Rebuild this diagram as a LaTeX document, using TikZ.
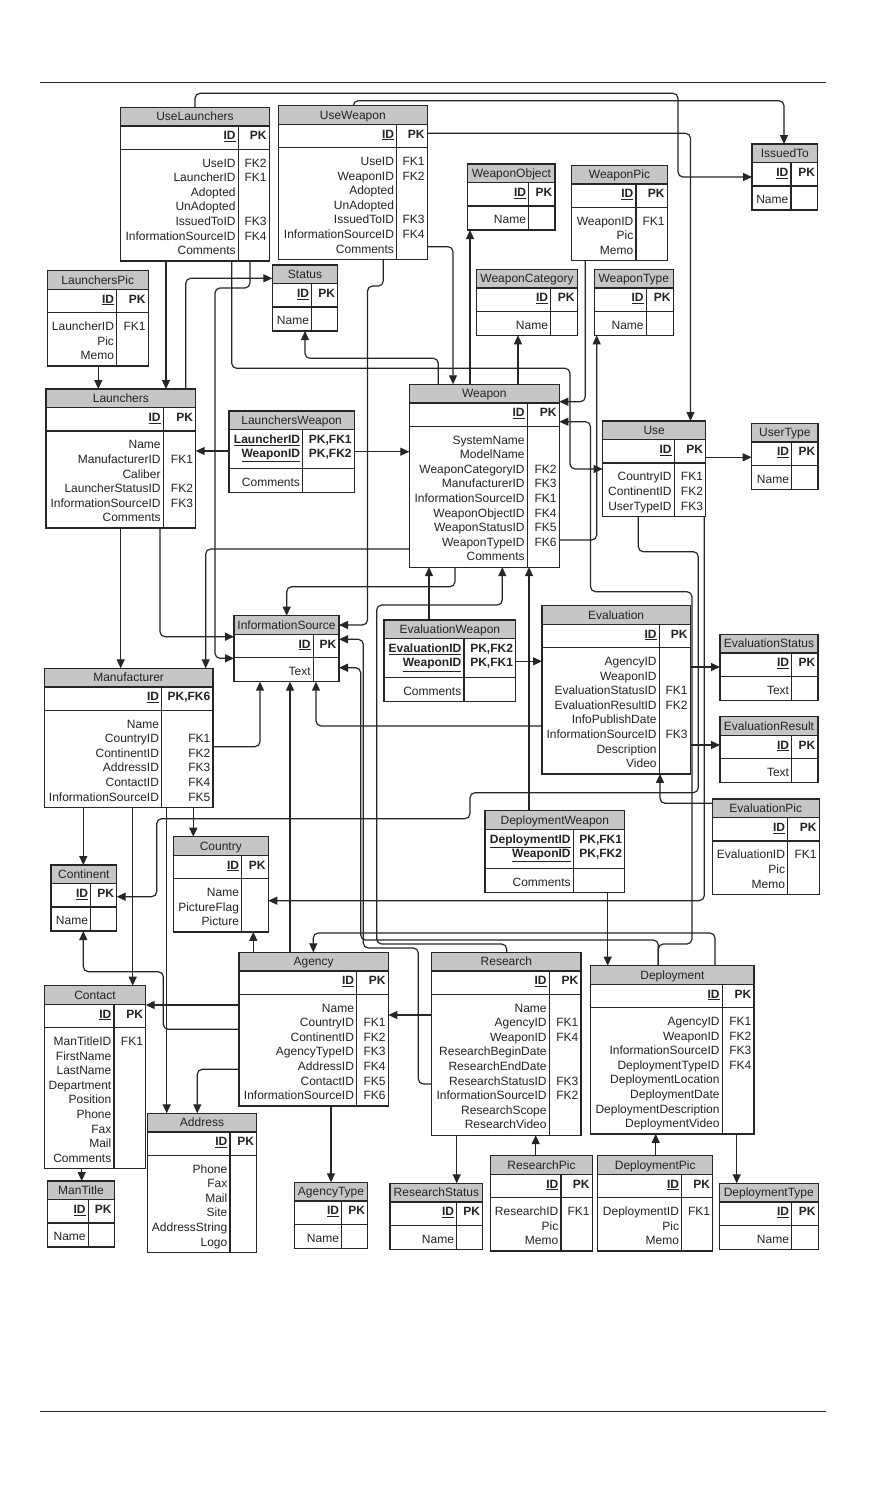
\documentclass[tikz,border=0pt]{standalone}
\usepackage{fontspec}
\setmainfont{Liberation Sans}
\usetikzlibrary{arrows.meta}
\definecolor{lc}{RGB}{38,38,38}
\definecolor{hd}{RGB}{198,198,198}
\definecolor{tc}{RGB}{35,35,35}
\tikzset{
 tabline/.style={draw=lc, line width=1.2pt},
 hdr/.style={fill=hd},
 tabbox/.style={inner sep=0pt, outer sep=0pt, draw=none},
 ttl/.style={inner sep=0pt, anchor=base, text=tc, font=\fontsize{12}{14}\selectfont},
 txt/.style={inner sep=0pt, anchor=base east, text=tc, font=\fontsize{12}{14}\selectfont},
 btxt/.style={inner sep=0pt, anchor=base east, text=tc, font=\bfseries\fontsize{12}{14}\selectfont},
 fk/.style={draw=lc, line width=1.2pt, rounded corners=5pt, -{Triangle[length=9pt,width=8pt]}},
 rule/.style={draw=lc, line width=1pt},
}
\newcounter{pkc}\newcounter{bdc}
\newcommand\ertab[8]{%
 \pgfmathsetmacro\tL{#2}%
 \pgfmathsetmacro\tD{#3}%
 \pgfmathsetmacro\tR{#4}%
 \pgfmathsetmacro\tT{#5}%
 \pgfmathsetmacro\tH{#5+18.7}%
 \pgfmathsetmacro\tP{\tH+23.3+(#7-1)*15.7}%
 \pgfmathsetmacro\tB{\tP+24+(#8-1)*14.6}%
 \pgfmathsetmacro\tW{\tR-\tL}%
 \pgfmathsetmacro\tHt{\tB-\tT}%
 \setcounter{pkc}{0}\setcounter{bdc}{0}%
 \node[tabbox, minimum width=\tW pt, minimum height=\tHt pt, anchor=north west] (#1) at (\tL,\tT) {};
 \fill[hdr] (\tL,\tT) rectangle (\tR,\tH);
 \draw[tabline] (\tL,\tT) rectangle (\tR,\tB) (\tL,\tH) -- (\tR,\tH) (\tL,\tP) -- (\tR,\tP) (\tD,\tH) -- (\tD,\tB);
 \node[ttl] at ({(\tL+\tR)/2},\tT+13.6) {#6};
}
\newcommand\pkrow[2]{%
 \pgfmathsetmacro\ty{\tH+13.8+\the\value{pkc}*14.3}%
 \node[txt] at (\tD-2.5,\ty) {\underline{\textbf{#1}}};
 \node[btxt] at (\tR-2.5,\ty) {#2};
 \stepcounter{pkc}}
\newcommand\bdrow[2]{%
 \pgfmathsetmacro\ty{\tP+17.8+\the\value{bdc}*14.6}%
 \node[txt] at (\tD-2.5,\ty) {#1};
 \node[txt] at (\tR-2.5,\ty) {#2};
 \stepcounter{bdc}}
\begin{document}
\begin{tikzpicture}[x=1pt,y=-1pt]
\useasboundingbox (0,0) rectangle (869,1489);
\fill[white] (0,0) rectangle (869,1489);
\draw[rule] (40,82) -- (826,82);
\draw[rule] (40,1411) -- (826,1411);

\ertab{UseLaunchers}{120.7}{238.3}{269.3}{107.3}{UseLaunchers}{1}{7}
\pkrow{ID}{PK}
\bdrow{UseID}{FK2}\bdrow{LauncherID}{FK1}\bdrow{Adopted}{}\bdrow{UnAdopted}{}\bdrow{IssuedToID}{FK3}\bdrow{InformationSourceID}{FK4}\bdrow{Comments}{}

\ertab{UseWeapon}{278.3}{396.7}{427.3}{105.7}{UseWeapon}{1}{7}
\pkrow{ID}{PK}
\bdrow{UseID}{FK1}\bdrow{WeaponID}{FK2}\bdrow{Adopted}{}\bdrow{UnAdopted}{}\bdrow{IssuedToID}{FK3}\bdrow{InformationSourceID}{FK4}\bdrow{Comments}{}

\ertab{WeaponObject}{467.7}{528.7}{555}{164}{WeaponObject}{1}{1}
\pkrow{ID}{PK}\bdrow{Name}{}

\ertab{WeaponCategory}{476.7}{550.7}{577.3}{269.3}{WeaponCategory}{1}{1}
\pkrow{ID}{PK}\bdrow{Name}{}

\ertab{WeaponPic}{571.7}{636}{667.3}{165.3}{WeaponPic}{1}{3}
\pkrow{ID}{PK}\bdrow{WeaponID}{FK1}\bdrow{Pic}{}\bdrow{Memo}{}

\ertab{WeaponType}{594.3}{646.3}{673.3}{269.3}{WeaponType}{1}{1}
\pkrow{ID}{PK}\bdrow{Name}{}

\ertab{IssuedTo}{752}{791}{817.7}{144}{IssuedTo}{1}{1}
\pkrow{ID}{PK}\bdrow{Name}{}

\ertab{LaunchersPic}{47.3}{116.7}{148.3}{270.7}{LaunchersPic}{1}{3}
\pkrow{ID}{PK}\bdrow{LauncherID}{FK1}\bdrow{Pic}{}\bdrow{Memo}{}

\ertab{Status}{272.3}{311.7}{337.7}{265}{Status}{1}{1}
\pkrow{ID}{PK}\bdrow{Name}{}

\ertab{Launchers}{46}{163.3}{195.7}{389}{Launchers}{1}{6}
\pkrow{ID}{PK}
\bdrow{Name}{}\bdrow{ManufacturerID}{FK1}\bdrow{Caliber}{}\bdrow{LauncherStatusID}{FK2}\bdrow{InformationSourceID}{FK3}\bdrow{Comments}{}

\ertab{LaunchersWeapon}{229}{302.7}{354.3}{411}{LaunchersWeapon}{2}{1}
\pkrow{LauncherID}{PK,FK1}\pkrow{WeaponID}{PK,FK2}\bdrow{Comments}{}

\ertab{Weapon}{409.3}{527.3}{559.3}{384.3}{Weapon}{1}{9}
\pkrow{ID}{PK}
\bdrow{SystemName}{}\bdrow{ModelName}{}\bdrow{WeaponCategoryID}{FK2}\bdrow{ManufacturerID}{FK3}\bdrow{InformationSourceID}{FK1}\bdrow{WeaponObjectID}{FK4}\bdrow{WeaponStatusID}{FK5}\bdrow{WeaponTypeID}{FK6}\bdrow{Comments}{}

\ertab{Use}{602.7}{674.3}{705.7}{421}{Use}{1}{3}
\pkrow{ID}{PK}\bdrow{CountryID}{FK1}\bdrow{ContinentID}{FK2}\bdrow{UserTypeID}{FK3}

\ertab{UserType}{751.7}{791.7}{818}{423.3}{UserType}{1}{1}
\pkrow{ID}{PK}\bdrow{Name}{}

\ertab{InformationSource}{234}{313.3}{339}{615.7}{InformationSource}{1}{1}
\pkrow{ID}{PK}\bdrow{Text}{}

\ertab{EvaluationWeapon}{384}{464}{515.7}{620}{EvaluationWeapon}{2}{1}
\pkrow{EvaluationID}{PK,FK2}\pkrow{WeaponID}{PK,FK1}\bdrow{Comments}{}

\ertab{Evaluation}{542}{659.3}{690.3}{605.7}{Evaluation}{1}{8}
\pkrow{ID}{PK}
\bdrow{AgencyID}{}\bdrow{WeaponID}{}\bdrow{EvaluationStatusID}{FK1}\bdrow{EvaluationResultID}{FK2}\bdrow{InfoPublishDate}{}\bdrow{InformationSourceID}{FK3}\bdrow{Description}{}\bdrow{Video}{}

\ertab{EvaluationStatus}{720}{791.7}{818}{634.3}{EvaluationStatus}{1}{1}
\pkrow{ID}{PK}\bdrow{Text}{}

\ertab{EvaluationResult}{720}{791.7}{818}{716.7}{EvaluationResult}{1}{1}
\pkrow{ID}{PK}\bdrow{Text}{}

\ertab{EvaluationPic}{712.3}{787.7}{819.3}{799}{EvaluationPic}{1}{3}
\pkrow{ID}{PK}\bdrow{EvaluationID}{FK1}\bdrow{Pic}{}\bdrow{Memo}{}

\ertab{DeploymentWeapon}{485}{573.3}{624.7}{810.7}{DeploymentWeapon}{2}{1}
\pkrow{DeploymentID}{PK,FK1}\pkrow{WeaponID}{PK,FK2}\bdrow{Comments}{}

\ertab{Manufacturer}{44.3}{161.7}{213}{668.3}{Manufacturer}{1}{6}
\pkrow{ID}{PK,FK6}
\bdrow{Name}{}\bdrow{CountryID}{FK1}\bdrow{ContinentID}{FK2}\bdrow{AddressID}{FK3}\bdrow{ContactID}{FK4}\bdrow{InformationSourceID}{FK5}

\ertab{Continent}{51}{90.7}{116.7}{865}{Continent}{1}{1}
\pkrow{ID}{PK}\bdrow{Name}{}

\ertab{Country}{173.3}{241.7}{268.3}{836.7}{Country}{1}{3}
\pkrow{ID}{PK}\bdrow{Name}{}\bdrow{PictureFlag}{}\bdrow{Picture}{}

\ertab{Contact}{44.3}{114}{145.7}{985.7}{Contact}{1}{9}
\pkrow{ID}{PK}
\bdrow{ManTitleID}{FK1}\bdrow{FirstName}{}\bdrow{LastName}{}\bdrow{Department}{}\bdrow{Position}{}\bdrow{Phone}{}\bdrow{Fax}{}\bdrow{Mail}{}\bdrow{Comments}{}

\ertab{ManTitle}{47.7}{88.3}{114.3}{1181}{ManTitle}{1}{1}
\pkrow{ID}{PK}\bdrow{Name}{}

\ertab{Address}{147.3}{230}{256.7}{1113.3}{Address}{1}{6}
\pkrow{ID}{PK}
\bdrow{Phone}{}\bdrow{Fax}{}\bdrow{Mail}{}\bdrow{Site}{}\bdrow{AddressString}{}\bdrow{Logo}{}

\ertab{Agency}{239}{356.7}{388.3}{952.3}{Agency}{1}{7}
\pkrow{ID}{PK}
\bdrow{Name}{}\bdrow{CountryID}{FK1}\bdrow{ContinentID}{FK2}\bdrow{AgencyTypeID}{FK3}\bdrow{AddressID}{FK4}\bdrow{ContactID}{FK5}\bdrow{InformationSourceID}{FK6}

\ertab{AgencyType}{294.3}{341.7}{367.7}{1182.3}{AgencyType}{1}{1}
\pkrow{ID}{PK}\bdrow{Name}{}

\ertab{Research}{431.7}{549.3}{581}{952.3}{Research}{1}{9}
\pkrow{ID}{PK}
\bdrow{Name}{}\bdrow{AgencyID}{FK1}\bdrow{WeaponID}{FK4}\bdrow{ResearchBeginDate}{}\bdrow{ResearchEndDate}{}\bdrow{ResearchStatusID}{FK3}\bdrow{InformationSourceID}{FK2}\bdrow{ResearchScope}{}\bdrow{ResearchVideo}{}

\ertab{ResearchStatus}{390}{456.7}{482.7}{1183.3}{ResearchStatus}{1}{1}
\pkrow{ID}{PK}\bdrow{Name}{}

\ertab{ResearchPic}{490.7}{561}{592.3}{1155.7}{ResearchPic}{1}{3}
\pkrow{ID}{PK}\bdrow{ResearchID}{FK1}\bdrow{Pic}{}\bdrow{Memo}{}

\ertab{Deployment}{590.7}{722.3}{754}{965.7}{Deployment}{1}{8}
\pkrow{ID}{PK}
\bdrow{AgencyID}{FK1}\bdrow{WeaponID}{FK2}\bdrow{InformationSourceID}{FK3}\bdrow{DeploymentTypeID}{FK4}\bdrow{DeploymentLocation}{}\bdrow{DeploymentDate}{}\bdrow{DeploymentDescription}{}\bdrow{DeploymentVideo}{}

\ertab{DeploymentPic}{597.7}{681.7}{712.7}{1155.7}{DeploymentPic}{1}{3}
\pkrow{ID}{PK}\bdrow{DeploymentID}{FK1}\bdrow{Pic}{}\bdrow{Memo}{}

\ertab{DeploymentType}{719.3}{791.7}{818.3}{1183.3}{DeploymentType}{1}{1}
\pkrow{ID}{PK}\bdrow{Name}{}

% ---------- connectors ----------
\draw[fk] (195,0 |- UseLaunchers.north) -- (195,93.3) -- (678,93.3) -- (678,177) -- (IssuedTo.west |- 0,177);
\draw[fk] (353.3,0 |- UseWeapon.north) -- (353.3,100.7) -- (784,100.7) -- (784,0 |- IssuedTo.north);
\draw[fk] (UseWeapon.east |- 0,133.3) -- (690.5,133.3) -- (690.5,0 |- Use.north);
\draw[fk] (UseWeapon.east |- 0,246.7) -- (453,246.7) -- (453,0 |- Weapon.north);
\draw[fk] (383.3,0 |- UseWeapon.south) -- (383.3,286) -- (367.5,286) -- (367.5,625) -- (InformationSource.east |- 0,625);
\draw[fk] (166,0 |- UseLaunchers.south) -- (166,0 |- Launchers.north);
\draw[fk] (231.7,0 |- UseLaunchers.south) -- (231.7,368.3) -- (570,368.3) -- (570,469) -- (Use.west |- 0,469);
\draw[fk] (250,0 |- UseLaunchers.south) -- (250,288) -- (215,288) -- (215,658.3) -- (InformationSource.west |- 0,658.3);
\draw[fk] (98.3,0 |- LaunchersPic.south) -- (98.3,0 |- Launchers.north);
\draw[fk] (185.7,0 |- Launchers.north) -- (185.7,278.3) -- (Status.west |- 0,278.3);
\draw[fk] (120.7,0 |- Launchers.south) -- (120.7,0 |- Manufacturer.north);
\draw[fk] (160,0 |- Launchers.south) -- (160,636.7) -- (InformationSource.west |- 0,636.7);
\draw[fk] (LaunchersWeapon.west |- 0,451) -- (Launchers.east |- 0,451);
\draw[fk] (LaunchersWeapon.east |- 0,451.7) -- (Weapon.west |- 0,451.7);
\draw[fk] (470,0 |- Weapon.north) -- (470,0 |- WeaponObject.south);
\draw[fk] (518,0 |- Weapon.north) -- (518,0 |- WeaponCategory.south);
\draw[fk] (438.3,0 |- Weapon.north) -- (438.3,358.3) -- (305,358.3) -- (305,0 |- Status.south);
\draw[fk] (585.3,0 |- WeaponPic.south) -- (585.3,401.7) -- (Weapon.east |- 0,401.7);
\draw[fk] (Weapon.east |- 0,540) -- (596.7,540) -- (596.7,0 |- WeaponType.south);
\draw[fk] (Weapon.west |- 0,549) -- (205.7,549) -- (205.7,0 |- Manufacturer.north);
\draw[fk] (455,0 |- Weapon.south) -- (455,586.7) -- (286.7,586.7) -- (286.7,0 |- InformationSource.north);
\draw[fk] (Use.east |- 0,457.3) -- (UserType.west |- 0,457.3);
\draw[fk] (429,0 |- EvaluationWeapon.north) -- (429,0 |- Weapon.south);
\draw[fk] (EvaluationWeapon.east |- 0,661.3) -- (Evaluation.west |- 0,661.3);
\draw[fk] (529,0 |- DeploymentWeapon.north) -- (529,0 |- Weapon.south);
\draw[fk] (506.7,0 |- Research.north) -- (506.7,944) -- (376.7,944) -- (376.7,605) -- (502.3,605) -- (502.3,0 |- Weapon.south);
\draw[fk] (Evaluation.east |- 0,667) -- (EvaluationStatus.west |- 0,667);
\draw[fk] (Evaluation.east |- 0,745) -- (EvaluationResult.west |- 0,745);
\draw[fk] (EvaluationPic.west |- 0,803.3) -- (660,803.3) -- (660,0 |- Evaluation.south);
\draw[fk] (Evaluation.west |- 0,726) -- (316,726) -- (316,0 |- InformationSource.south);
\draw[fk] (607.7,0 |- DeploymentWeapon.south) -- (607.7,0 |- Deployment.north);
\draw[fk] (Manufacturer.east |- 0,746.7) -- (260,746.7) -- (260,0 |- InformationSource.south);
\draw[fk] (83.3,0 |- Manufacturer.south) -- (83.3,0 |- Continent.north);
\draw[fk] (193.3,0 |- Manufacturer.south) -- (193.3,0 |- Country.north);
\draw[fk] (132.7,0 |- Manufacturer.south) -- (132.7,0 |- Contact.north);
\draw[fk] (166.7,0 |- Manufacturer.south) -- (166.7,0 |- Address.north);
\draw[fk] (253.3,0 |- Agency.north) -- (253.3,0 |- Country.south);
\draw[fk] (290,0 |- Agency.north) -- (290,0 |- InformationSource.south);
\draw[fk] (Agency.west |- 0,1029.3) -- (163.3,1029.3) -- (163.3,971.7) -- (83.3,971.7) -- (83.3,0 |- Continent.south);
\draw[fk] (Agency.west |- 0,1005) -- (Contact.east |- 0,1005);
\draw[fk] (Agency.west |- 0,1069.3) -- (197.3,1069.3) -- (197.3,0 |- Address.north);
\draw[fk] (331,0 |- Agency.south) -- (331,0 |- AgencyType.north);
\draw[fk] (81.7,0 |- Contact.south) -- (81.7,0 |- ManTitle.north);
\draw[fk] (Research.west |- 0,1015) -- (Agency.east |- 0,1015);
\draw[fk] (456.7,0 |- Research.south) -- (456.7,0 |- ResearchStatus.north);
\draw[fk] (535.7,0 |- ResearchPic.north) -- (535.7,0 |- Research.south);
\draw[fk] (655.7,0 |- DeploymentPic.north) -- (655.7,0 |- Deployment.south);
\draw[fk] (736.7,0 |- Deployment.south) -- (736.7,0 |- DeploymentType.north);
\draw[fk] (Research.west |- 0,1084) -- (418.3,1084) -- (418.3,948) -- (363.3,948) -- (363.3,639.3) -- (InformationSource.east |- 0,639.3);
\draw[fk] (715,0 |- Deployment.north) -- (715,933) -- (313.3,933) -- (313.3,0 |- Agency.north);
\draw[fk] (658.3,0 |- Deployment.north) -- (658.3,944) -- (692,944) -- (692,591.7) -- (590.5,591.7) -- (590.5,421.7) -- (Weapon.east |- 0,421.7);
\draw[fk] (658.3,0 |- Deployment.north) -- (658.3,940) -- (360.7,940) -- (360.7,667.7) -- (InformationSource.east |- 0,667.7);
\draw[fk] (638.3,0 |- Use.south) -- (638.3,551.7) -- (698.3,551.7) -- (698.3,792.7) -- (470,792.7) -- (470,818.7) -- (156.7,818.7) -- (156.7,896.7) -- (Continent.east |- 0,896.7);
\draw[fk] (704.3,0 |- Use.south) -- (704.3,900.7) -- (Country.east |- 0,900.7);
\end{tikzpicture}
\end{document}
